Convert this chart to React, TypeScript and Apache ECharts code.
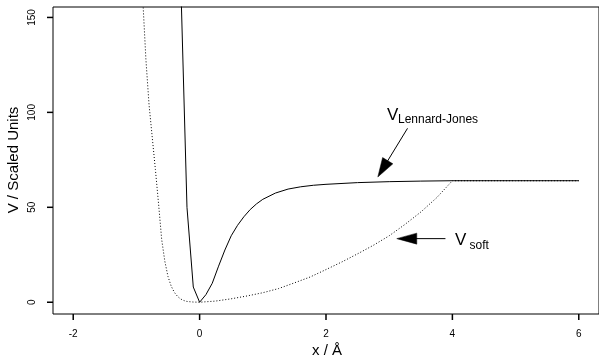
import { useEffect, useRef } from "react";
import * as echarts from "echarts";

const xTicks = [-2, 0, 2, 4, 6];
const yTicks = [0, 50, 100, 150];

// Lennard-Jones-like curve (solid)
const ljX = [-0.3, -0.2, -0.1, 0, 0.1, 0.2, 0.3, 0.4, 0.5, 0.6, 0.7, 0.8, 0.9, 1.0, 1.2, 1.4, 1.6, 1.8, 2.0, 2.5, 3.0, 3.5, 4.0, 5.0, 6.0];
const ljV = [170.7, 50, 8, 0, 4, 10, 19, 27.5, 35, 40.5, 45, 48.8, 51.8, 54.2, 57.5, 59.6, 60.8, 61.6, 62.1, 63, 63.5, 63.8, 64, 64, 64];

// Soft potential (dotted)
const softX = [-0.9, -0.85, -0.8, -0.75, -0.7, -0.65, -0.6, -0.55, -0.5, -0.45, -0.4, -0.35, -0.3, -0.25, -0.2, -0.1, 0, 0.25, 0.5, 0.75, 1.0, 1.25, 1.5, 1.75, 2.0, 2.25, 2.5, 2.75, 3.0, 3.25, 3.5, 3.75, 4.0, 5.0, 6.0];
const softV = [160, 128, 104, 87, 70, 52, 33, 21.5, 13.5, 8.5, 5.2, 3.1, 1.7, 0.9, 0.4, 0.1, 0, 0.6, 1.8, 3.3, 5.0, 7.2, 10.2, 13.3, 17.2, 21.2, 25.5, 30, 35, 41, 47.5, 55, 64, 64, 64];

const xTitle = "x / Å";
const yTitle = "V / Scaled Units";

const X_MIN = -2.32;
const X_MAX = 6.32;
const Y_MIN = -6.2;
const Y_MAX = 155.5;

const FONT = "'Liberation Sans', Arial, Helvetica, sans-serif";

function arrowGraphics(tail: number[], tip: number[], len: number, hw: number) {
  const dx = tip[0] - tail[0];
  const dy = tip[1] - tail[1];
  const d = Math.hypot(dx, dy);
  const ux = dx / d;
  const uy = dy / d;
  const bx = tip[0] - ux * len;
  const by = tip[1] - uy * len;
  const nx = -uy;
  const ny = ux;
  return [
    {
      type: "line",
      shape: { x1: tail[0], y1: tail[1], x2: bx + ux * 1, y2: by + uy * 1 },
      style: { stroke: "#000", lineWidth: 1 },
    },
    {
      type: "polygon",
      shape: {
        points: [
          [tip[0], tip[1]],
          [bx + nx * hw, by + ny * hw],
          [bx - nx * hw, by - ny * hw],
        ],
      },
      style: { fill: "#000", stroke: "#000", lineWidth: 0.5 },
    },
  ];
}

export default function App() {
  const ref = useRef<HTMLDivElement>(null);
  useEffect(() => {
    const chart = echarts.init(ref.current!, null, { renderer: "svg" });
    chart.setOption({
      animation: false,
      grid: {
        left: 53,
        top: 7,
        width: 547,
        height: 307,
        show: true,
        borderColor: "#000",
        borderWidth: 1,
      },
      xAxis: {
        type: "value",
        min: X_MIN,
        max: X_MAX,
        position: "bottom",
        axisLine: { show: false, onZero: false },
        splitLine: { show: false },
        axisTick: { show: false },
        axisLabel: {
          customValues: xTicks,
          fontSize: 10,
          fontFamily: FONT,
          color: "#000",
          margin: 14,
        },
      },
      yAxis: {
        type: "value",
        min: Y_MIN,
        max: Y_MAX,
        position: "left",
        axisLine: { show: false, onZero: false },
        splitLine: { show: false },
        axisTick: { show: false },
        axisLabel: {
          customValues: yTicks,
          fontSize: 10,
          fontFamily: FONT,
          color: "#000",
          rotate: 90,
          margin: 17,
        },
      },
      series: [
        {
          type: "line",
          data: ljX.map((x, i) => [x, ljV[i]]),
          showSymbol: false,
          symbol: "none",
          smooth: false,
          clip: true,
          lineStyle: { color: "#000", width: 1 },
          silent: true,
        },
        {
          type: "line",
          data: softX.map((x, i) => [x, softV[i]]),
          showSymbol: false,
          symbol: "none",
          smooth: false,
          clip: true,
          lineStyle: { color: "#000", width: 1, type: [1, 2] },
          silent: true,
        },
      ],
    });

    const px = (x: number, y: number) => chart.convertToPixel({ gridIndex: 0 }, [x, y]) as number[];
    const ljArrow = arrowGraphics(px(3.29, 91.6), px(2.82, 66), 19, 6);
    const softArrow = arrowGraphics(px(3.89, 33.5), px(3.12, 33.5), 20, 5.5);

    const bottom = px(0, Y_MIN)[1];
    const left = px(X_MIN, 0)[0];
    const tickEls: any[] = [];
    xTicks.forEach((t) => {
      const x = px(t, 0)[0];
      tickEls.push({
        type: "line",
        shape: { x1: x, y1: bottom, x2: x, y2: bottom + 6 },
        style: { stroke: "#000", lineWidth: 1.5 },
      });
    });
    yTicks.forEach((t) => {
      const y = px(0, t)[1];
      tickEls.push({
        type: "line",
        shape: { x1: left - 6, y1: y, x2: left, y2: y },
        style: { stroke: "#000", lineWidth: 1.5 },
      });
    });

    chart.setOption({
      graphic: [
        ...tickEls,
        ...ljArrow,
        ...softArrow,
        {
          type: "text",
          x: 387,
          y: 114,
          style: { text: "V", font: `17px ${FONT}`, fill: "#000", textAlign: "left", textVerticalAlign: "middle" },
        },
        {
          type: "text",
          x: 398,
          y: 119,
          style: { text: "Lennard-Jones", font: `12px ${FONT}`, fill: "#000", textAlign: "left", textVerticalAlign: "middle" },
        },
        {
          type: "text",
          x: 455,
          y: 239.5,
          style: { text: "V", font: `17px ${FONT}`, fill: "#000", textAlign: "left", textVerticalAlign: "middle" },
        },
        {
          type: "text",
          x: 469.5,
          y: 245,
          style: { text: "soft", font: `12px ${FONT}`, fill: "#000", textAlign: "left", textVerticalAlign: "middle" },
        },
        {
          type: "text",
          x: 327,
          y: 349,
          style: { text: xTitle, font: `15px ${FONT}`, fill: "#000", textAlign: "center", textVerticalAlign: "middle" },
        },
        {
          type: "text",
          x: 12,
          y: 160,
          rotation: Math.PI / 2,
          style: { text: yTitle, font: `15px ${FONT}`, fill: "#000", textAlign: "center", textVerticalAlign: "middle" },
        },
      ],
    });
    return () => chart.dispose();
  }, []);
  return <div ref={ref} style={{ position: "fixed", left: 0, top: 0, width: 599, height: 356 }} />;
}
